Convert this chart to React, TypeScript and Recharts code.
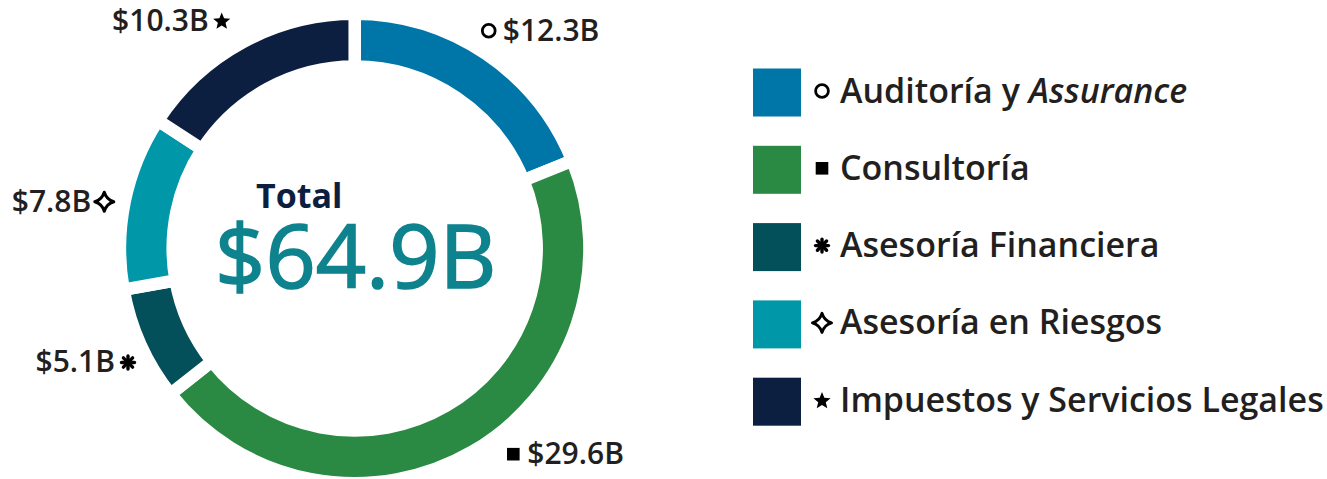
import { Cell, Pie, PieChart } from 'recharts';

const categories = [
  'Auditoría y Assurance',
  'Consultoría',
  'Asesoría Financiera',
  'Asesoría en Riesgos',
  'Impuestos y Servicios Legales',
];
const values = [12.3, 29.6, 5.1, 7.8, 10.3];
const valueLabels = ['$12.3B', '$29.6B', '$5.1B', '$7.8B', '$10.3B'];
const markers = ['circle', 'square', 'asterisk', 'sparkle', 'star'];
const colors = ['#0076A8', '#2A8A43', '#03505A', '#0097A9', '#0C1F40'];
const italicWords = ['Assurance'];
const totalTitle = 'Total';
const totalLabel = '$64.9B';

// hand tweaks so the outer labels land where the original puts them
const labelAngleNudge = [-2.4, -7.5, -2.5, -0.9, -1.8];
const labelRadiusNudge = [-1, 3, -3, -2, 7];

const FONT = "'Open Sans', sans-serif";
const TEXT = '#231F20';
const RAD = Math.PI / 180;

const data = categories.map((name, i) => ({
  name,
  value: values[i],
  label: valueLabels[i],
  marker: markers[i],
}));

function Marker({ kind, x, y }: { kind: string; x: number; y: number }) {
  if (kind === 'circle') {
    return <circle cx={x} cy={y} r={6.4} fill="none" stroke="#000" strokeWidth={2.8} />;
  }
  if (kind === 'square') {
    return <rect x={x - 6.3} y={y - 6.3} width={12.6} height={12.6} fill="#000" />;
  }
  if (kind === 'asterisk') {
    return (
      <g transform={`translate(${x},${y})`} stroke="#000" strokeWidth={3.4} strokeLinecap="round">
        {[0, 45, 90, 135].map((a) => (
          <line key={a} x1={-6.5} y1={0} x2={6.5} y2={0} transform={`rotate(${a})`} />
        ))}
      </g>
    );
  }
  if (kind === 'sparkle') {
    return (
      <path
        transform={`translate(${x},${y})`}
        d="M0,-9.5 Q2.2,-2.2 9.5,0 Q2.2,2.2 0,9.5 Q-2.2,2.2 -9.5,0 Q-2.2,-2.2 0,-9.5Z"
        fill="none"
        stroke="#000"
        strokeWidth={3}
        strokeLinejoin="round"
      />
    );
  }
  const pts = Array.from({ length: 10 }, (_, k) => {
    const r = k % 2 === 0 ? 9 : 4;
    const a = (-90 + k * 36) * RAD;
    return `${x + r * Math.cos(a)},${y + 0.8 + r * Math.sin(a)}`;
  }).join(' ');
  return <polygon points={pts} fill="#000" />;
}

function renderLabel(props: any) {
  const { cx, cy, midAngle, outerRadius, index } = props;
  const a = midAngle - labelAngleNudge[index];
  const r = outerRadius + 22 + labelRadiusNudge[index];
  const x = cx + r * Math.cos(a * RAD);
  const y = cy - r * Math.sin(a * RAD);
  const right = x > cx;
  return (
    <g key={`lbl-${index}`}>
      <Marker kind={markers[index]} x={x} y={y} />
      <text
        x={right ? x + 14 : x - 13}
        y={y + 10}
        textAnchor={right ? 'start' : 'end'}
        fontFamily={FONT}
        fontSize={30}
        fontWeight={600}
        fill={TEXT}
      >
        {valueLabels[index]}
      </text>
    </g>
  );
}

function LegendText({ name }: { name: string }) {
  const parts = name.split(' ');
  return (
    <>
      {parts.map((p, i) => (
        <tspan key={i} fontStyle={italicWords.includes(p) ? 'italic' : 'normal'}>
          {(i > 0 ? ' ' : '') + p}
        </tspan>
      ))}
    </>
  );
}

export default function App() {
  const cx = 354.7;
  const cy = 248.5;
  return (
    <div style={{ position: 'absolute', left: 0, top: 0, width: 1327, height: 479, background: '#fff' }}>
      <PieChart width={740} height={479} margin={{ top: 0, right: 0, bottom: 0, left: 0 }}>
        <Pie
          data={data}
          dataKey="value"
          nameKey="name"
          cx={cx}
          cy={cy}
          innerRadius={182}
          outerRadius={234.75}
          startAngle={90}
          endAngle={-270}
          stroke="#fff"
          strokeWidth={12.5}
          label={renderLabel}
          labelLine={false}
          isAnimationActive={false}
        >
          {data.map((d, i) => (
            <Cell key={d.name} fill={colors[i]} stroke="#fff" strokeWidth={12.5} />
          ))}
        </Pie>
        <text x={cx - 55.5} y={208} textAnchor="middle" fontFamily={FONT} fontSize={34} fontWeight={700} fill="#0C1F40">
          {totalTitle}
        </text>
        <text
          x={cx + 1}
          y={288}
          textAnchor="middle"
          fontFamily={FONT}
          fontSize={88}
          fontWeight={400}
          fill="#0E838E"
          stroke="#0E838E"
          strokeWidth={1.6}
        >
          {totalLabel}
        </text>
      </PieChart>
      <svg width={587} height={479} style={{ position: 'absolute', left: 740, top: 0 }}>
        {categories.map((name, i) => {
          const rowY = 92.5 + i * 77.3;
          return (
            <g key={name}>
              <rect x={13} y={rowY - 24} width={48} height={48} fill={colors[i]} />
              <Marker kind={markers[i]} x={82} y={rowY - 1.5} />
              <text x={100} y={rowY + 10} fontFamily={FONT} fontSize={34} fontWeight={600} fill={TEXT}>
                <LegendText name={name} />
              </text>
            </g>
          );
        })}
      </svg>
    </div>
  );
}
